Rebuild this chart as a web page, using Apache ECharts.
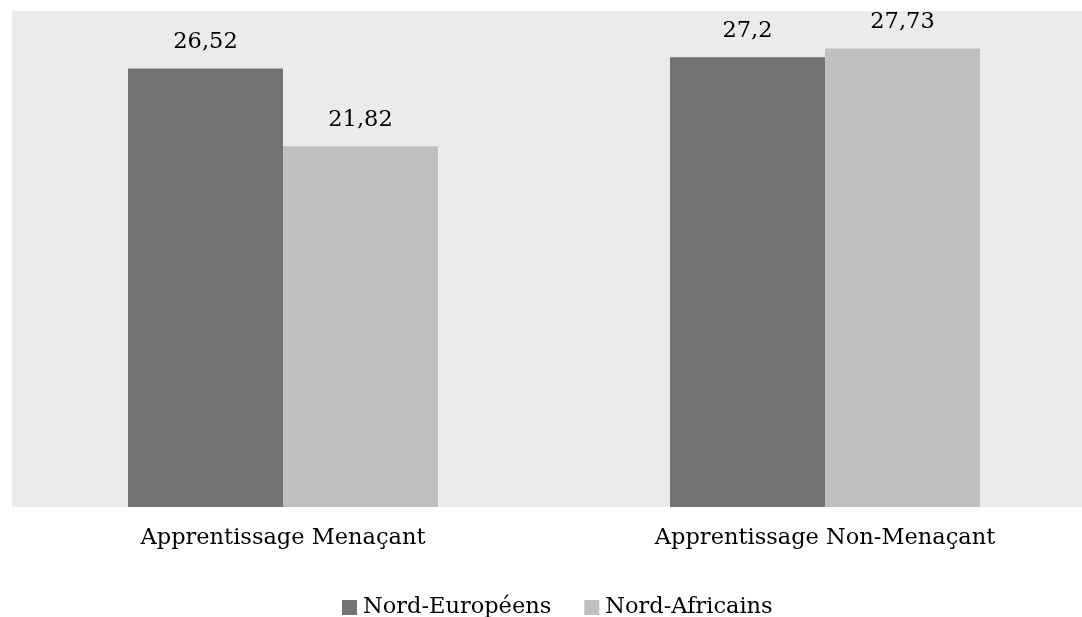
<!DOCTYPE html>
<html>
<head>
<meta charset="utf-8">
<script src="https://cdn.jsdelivr.net/npm/echarts@6/dist/echarts.min.js"></script>
<style>
html,body{margin:0;padding:0;background:#fff;overflow:hidden;width:1082px;height:617px;}
#main{width:1096px;height:617px;}
</style>
</head>
<body>
<div id="main"></div>
<script>
var categories = ['Apprentissage Menaçant', 'Apprentissage Non-Menaçant'];
var seriesNames = ['Nord-Européens', 'Nord-Africains'];
var nordEuropeens = [26.52, 27.2];
var nordAfricains = [21.82, 27.73];

var FONT = '"DejaVu Serif", serif';
var chart = echarts.init(document.getElementById('main'), null, {renderer: 'canvas'});

function fmt(p) { return String(p.value).replace('.', ','); }

chart.setOption({
  animation: false,
  backgroundColor: '#ffffff',
  grid: {
    left: 12, top: 11, width: 1084, height: 496,
    show: true, backgroundColor: '#ebebeb', borderWidth: 0, containLabel: false
  },
  legend: {
    data: seriesNames,
    top: 591,
    left: 337,
    itemWidth: 15, itemHeight: 15,
    itemGap: 33,
    icon: 'rect',
    textStyle: {fontFamily: FONT, fontSize: 22.5, color: '#000', padding: [0, 0, 0, 1]}
  },
  xAxis: {
    type: 'category',
    data: categories,
    axisLine: {show: false},
    axisTick: {show: false},
    axisLabel: {fontFamily: FONT, fontSize: 22.5, color: '#000', margin: 20}
  },
  yAxis: {
    type: 'value',
    min: 0, max: 30,
    axisLabel: {show: false},
    axisLine: {show: false},
    axisTick: {show: false},
    splitLine: {show: false}
  },
  series: [
    {
      name: seriesNames[0], type: 'bar', data: nordEuropeens,
      barWidth: 155, barGap: '0%',
      itemStyle: {color: '#737373'},
      label: {show: true, position: 'top', distance: 15, formatter: fmt,
              fontFamily: FONT, fontSize: 22.5, color: '#000'}
    },
    {
      name: seriesNames[1], type: 'bar', data: nordAfricains,
      barWidth: 155, barGap: '0%',
      itemStyle: {color: '#bfbfbf'},
      label: {show: true, position: 'top', distance: 15, formatter: fmt,
              fontFamily: FONT, fontSize: 22.5, color: '#000'}
    }
  ]
});
</script>
</body>
</html>
